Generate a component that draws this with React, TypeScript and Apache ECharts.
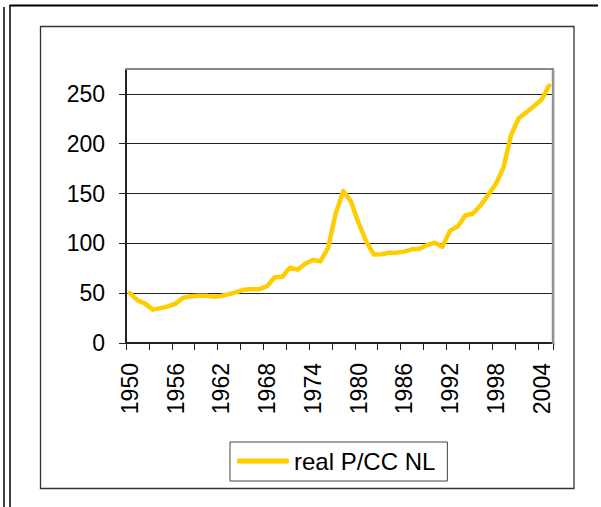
import React, { useEffect, useRef } from 'react';
import * as echarts from 'echarts';

const years = [
  '1950', '1951', '1952', '1953', '1954', '1955', '1956', '1957', '1958', '1959',
  '1960', '1961', '1962', '1963', '1964', '1965', '1966', '1967', '1968', '1969',
  '1970', '1971', '1972', '1973', '1974', '1975', '1976', '1977', '1978', '1979',
  '1980', '1981', '1982', '1983', '1984', '1985', '1986', '1987', '1988', '1989',
  '1990', '1991', '1992', '1993', '1994', '1995', '1996', '1997', '1998', '1999',
  '2000', '2001', '2002', '2003', '2004', '2005',
];

const realPCCNL = [
  50, 43, 39.5, 33.5, 35, 36.8, 39.5, 45.5, 46.9, 47.5,
  47.5, 46.5, 47.2, 49, 51, 53.5, 54, 54, 57, 66,
  66.5, 75.6, 73.6, 79.6, 83.3, 82, 95.4, 130, 152.5, 142,
  120.5, 102, 88.7, 89, 90.5, 90.7, 91.7, 94, 94.7, 98.4,
  100.7, 96.7, 112.8, 117, 128, 130, 138, 148.6, 159.6, 176,
  208.5, 225.6, 231.6, 237.6, 244.3, 258.4,
];

const yTickValues = [0, 50, 100, 150, 200, 250];
const seriesName = 'real P/CC NL';

export default function App() {
  const ref = useRef<HTMLDivElement>(null);

  useEffect(() => {
    if (!ref.current) return;
    const chart = echarts.init(ref.current, null, { renderer: 'svg' });
    chart.setOption({
      animation: false,
      backgroundColor: '#ffffff',
      textStyle: { fontFamily: '"Liberation Sans", Arial, sans-serif' },
      grid: { left: 126, right: 48, top: 69, bottom: 164, show: false },
      xAxis: {
        type: 'category',
        data: years,
        boundaryGap: true,
        axisLine: { show: true, lineStyle: { color: '#222', width: 2 } },
        axisTick: { show: true, interval: 2, length: 7, lineStyle: { color: '#222', width: 1 } },
        axisLabel: { interval: 5, rotate: 90, margin: 20, fontSize: 23, color: '#000' },
        splitLine: { show: false },
      },
      yAxis: {
        type: 'value',
        min: 0,
        max: 275,
        interval: 50,
        axisLine: { show: true, lineStyle: { color: '#222', width: 2 } },
        axisTick: { show: true, length: 7, lineStyle: { color: '#222', width: 1 }, customValues: yTickValues },
        axisLabel: { margin: 21, fontSize: 23, color: '#000', customValues: yTickValues },
        splitLine: { show: true, lineStyle: { color: '#222', width: 1 } },
      },
      legend: {
        left: 230,
        top: 442,
        orient: 'horizontal',
        padding: [7, 12, 8, 7],
        borderColor: '#444',
        borderWidth: 1,
        itemWidth: 52,
        itemHeight: 5,
        icon: 'roundRect',
        textStyle: { fontSize: 24, color: '#000' },
        data: [seriesName],
      },
      series: [
        {
          name: seriesName,
          type: 'line',
          data: realPCCNL,
          showSymbol: false,
          symbol: 'none',
          z: 3,
          itemStyle: { color: '#FFCC00' },
          lineStyle: { color: '#FFCC00', width: 4.5, cap: 'round', join: 'round' },
        },
      ],
      graphic: [
        { type: 'line', z: 100, shape: { x1: 4, y1: 7, x2: 4, y2: 507 }, style: { stroke: '#000', lineWidth: 1.5 } },
        { type: 'line', z: 100, shape: { x1: 10, y1: 5, x2: 10, y2: 507 }, style: { stroke: '#000', lineWidth: 1.5 } },
        { type: 'line', z: 100, shape: { x1: 9.5, y1: 5.5, x2: 598, y2: 5.5 }, style: { stroke: '#000', lineWidth: 2 } },
        { type: 'rect', z: 100, shape: { x: 40.5, y: 26.5, width: 533.5, height: 462 }, style: { fill: 'none', stroke: '#333', lineWidth: 1.3 } },
        { type: 'line', z: 100, shape: { x1: 125, y1: 69, x2: 554, y2: 69 }, style: { stroke: '#888', lineWidth: 2 } },
        { type: 'line', z: 100, shape: { x1: 552.8, y1: 68, x2: 552.8, y2: 344 }, style: { stroke: '#888', lineWidth: 2 } },
        { type: 'line', z: 100, shape: { x1: 554.5, y1: 70, x2: 554.5, y2: 345 }, style: { stroke: '#ccc', lineWidth: 1 } },
      ],
    });
    return () => chart.dispose();
  }, []);

  return (
    <div
      ref={ref}
      style={{ position: 'absolute', left: 0, top: 0, width: 601, height: 507, background: '#fff' }}
    />
  );
}
